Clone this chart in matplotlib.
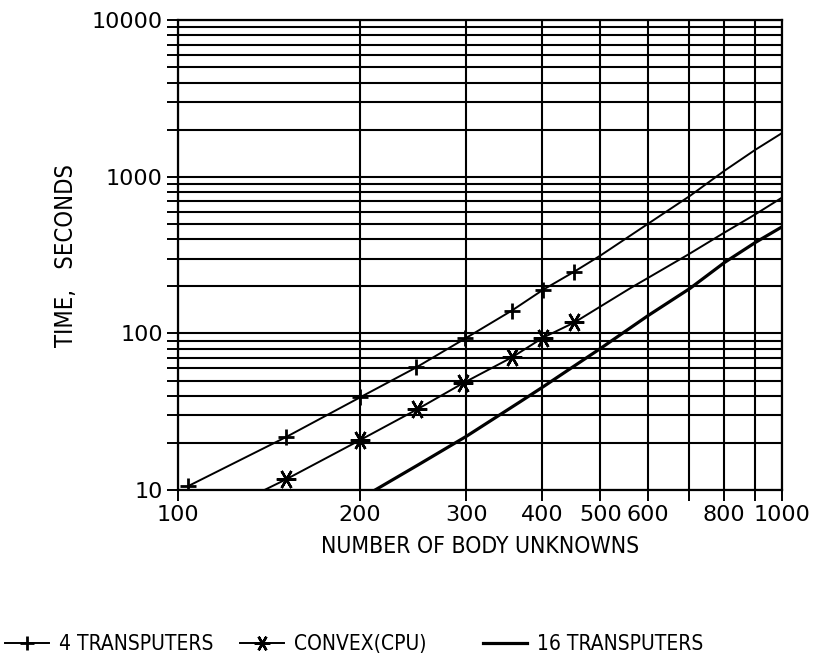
import matplotlib
matplotlib.use('Agg')
import matplotlib.pyplot as plt
from matplotlib.ticker import FixedLocator, NullFormatter

# 4 transputers (markers + curve)
t4_x = [104, 151, 200, 248, 299, 357, 402, 452, 500, 600, 704, 802, 902, 1000]
t4_y = [10.6, 21.8, 39, 60.7, 93, 140, 190, 247, 314, 502, 757, 1092, 1486, 1906]
t4_nmark = 8

# convex (cpu)
cv_x = [139, 151, 200, 249, 296, 357, 402, 453, 560, 700, 802, 902, 1000]
cv_y = [10, 11.7, 20.8, 32.8, 48, 70.3, 94, 117.5, 194, 320, 440, 575, 738]
cv_marks = [1, 2, 3, 4, 5, 6, 7]

# 16 transputers
t16_x = [212, 250, 300, 368, 400, 500, 600, 704, 802, 902, 1000]
t16_y = [10, 14.5, 22, 36.5, 45, 80, 130, 194, 283, 380, 480]

xtick_pos = [100, 200, 300, 400, 500, 600, 800, 1000]
xtick_lab = ['100', '200', '300', '400', '500', '600', '800', '1000']
ytick_pos = [10, 100, 1000, 10000]
ytick_lab = ['10', '100', '1000', '10000']

plt.rcParams['font.family'] = ['DejaVu Sans']

fig = plt.figure(figsize=(8.19, 6.55), dpi=100)
ax = fig.add_axes([0.2175, 0.252, 0.7375, 0.717])

ax.set_xscale('log')
ax.set_yscale('log')
ax.set_xlim(100, 1000)
ax.set_ylim(10, 10000)

l1, = ax.plot(t4_x, t4_y, color='black', lw=1.4, marker='+', ms=12, mew=2,
              markevery=list(range(t4_nmark)), label='4 TRANSPUTERS')
l2, = ax.plot(cv_x, cv_y, color='black', lw=1.4, marker=(6, 2, 30), ms=14, mew=1.8,
              markevery=cv_marks, label='CONVEX(CPU)')
l3, = ax.plot(t16_x, t16_y, color='black', lw=2.3, label='16 TRANSPUTERS')

# grid on every decade subdivision
ax.xaxis.set_major_locator(FixedLocator(xtick_pos))
ax.xaxis.set_minor_locator(FixedLocator([700, 900]))
ax.set_xticklabels(xtick_lab)
ax.xaxis.set_minor_formatter(NullFormatter())
ax.yaxis.set_major_locator(FixedLocator(ytick_pos))
ax.set_yticklabels(ytick_lab)
ax.yaxis.set_minor_formatter(NullFormatter())
ax.grid(True, which='both', color='black', lw=1.5)

ax.tick_params(which='both', direction='out', length=8, width=1.4, color='black',
               labelsize=16, pad=3)
for s in ax.spines.values():
    s.set_linewidth(1.6)

ax.set_xlabel('NUMBER OF BODY UNKNOWNS', fontsize=16.5, fontstretch='condensed', labelpad=7)
ax.set_ylabel('TIME,   SECONDS', fontsize=17, fontstretch='condensed', labelpad=10)

# legend entries laid out along the bottom, one per column
leg_x = [0.006, 0.293, 0.590]
for h, lx in zip([l1, l2, l3], leg_x):
    fig.legend(handles=[h], loc='center left', bbox_to_anchor=(lx, 0.017),
               frameon=False, borderpad=0, borderaxespad=0,
               handlelength=2.1, handletextpad=0.5, markerscale=0.8,
               prop={'size': 15, 'stretch': 'condensed'})

fig.savefig('out.png', dpi=100)
